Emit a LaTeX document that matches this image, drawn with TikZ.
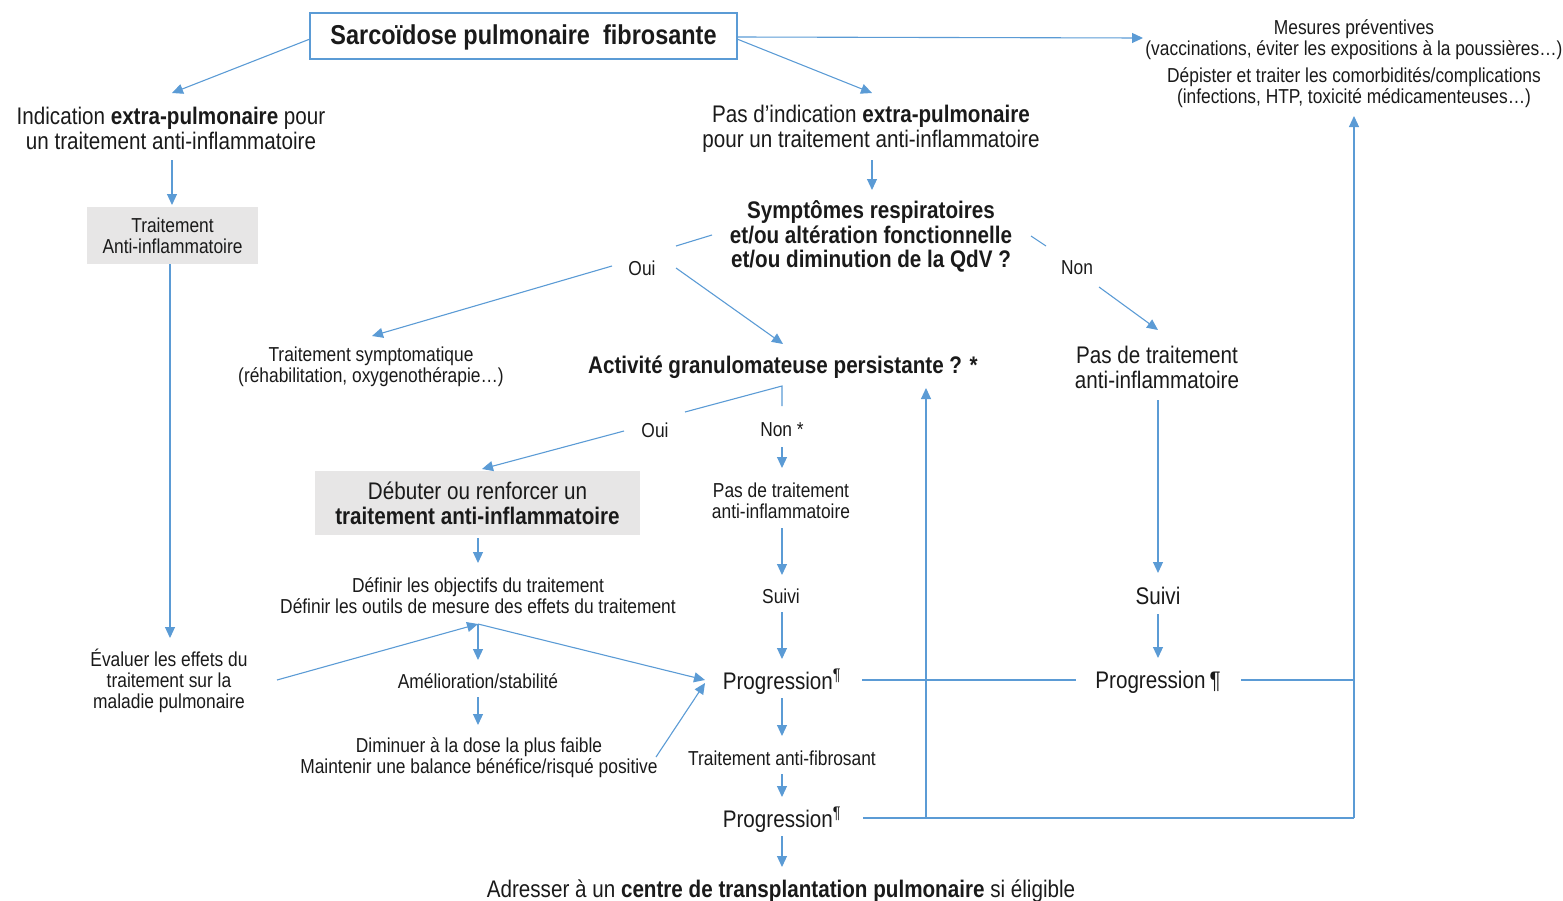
\documentclass[tikz,border=0pt]{standalone}
\usepackage{fontspec}
\setmainfont{Liberation Sans}[FakeStretch=0.86]
\usetikzlibrary{arrows.meta,calc}
\definecolor{lb}{HTML}{5B9BD5}
\definecolor{gbox}{HTML}{E7E6E6}
\definecolor{tx}{HTML}{1A1A1A}
\tikzset{
 conn/.style={draw=lb, line width=1.1pt},
 arr/.style={conn, -{Triangle[length=11pt,width=10pt]}},
 bigfont/.style={font=\fontsize{24}{25}\selectfont, align=center, inner sep=0pt, text=tx},
 smallfont/.style={font=\fontsize{20.2}{21}\selectfont, align=center, inner sep=0pt, text=tx},
 big/.style={bigfont, yshift=-2pt},
 small/.style={smallfont, yshift=-2pt},
 graybox/.style={fill=gbox, draw=none},
}
\begin{document}
\begin{tikzpicture}[x=1pt,y=-1pt]
\useasboundingbox (0,0) rectangle (1563,900);
% nodes
\node[draw=lb, line width=1.6pt, minimum width=427pt, minimum height=46pt, inner sep=0pt, text=tx, text depth=3pt,
  font=\fontsize{27.3}{30}\selectfont\bfseries] (title) at (523.5,36) {Sarcoïdose pulmonaire\ \ fibrosante};
\node[big] (ind) at (171,126.5) {Indication \textbf{extra-pulmonaire} pour\\un traitement anti-inflammatoire};
\node[big] (pas) at (871,126.5) {Pas d’indication \textbf{extra-pulmonaire}\\pour un traitement anti-inflammatoire};
\node[small] (mes1) at (1354,37.5) {Mesures préventives\\(vaccinations, éviter les expositions à la poussières…)};
\node[small] (mes2) at (1354,85.5) {Dépister et traiter les comorbidités/complications\\(infections, HTP, toxicité médicamenteuses…)};
\node[smallfont, graybox, minimum width=171pt, minimum height=57pt] (trA) at (172.5,235.5) {Traitement\\Anti-inflammatoire};
\node[big, font=\fontsize{24}{24.5}\selectfont\bfseries] (sym) at (871,234.5) {Symptômes respiratoires\\et/ou altération fonctionnelle\\et/ou diminution de la QdV ?};
\node[small] (oui1) at (642,266) {Oui};
\node[small] (non1) at (1077,266) {Non};
\node[small] (trS) at (371,364.5) {Traitement symptomatique\\(réhabilitation, oxygenothérapie…)};
\node[big, font=\fontsize{24}{25}\selectfont\bfseries] (act) at (783,365) {Activité granulomateuse persistante ? *};
\node[big] (pdt1) at (1157,365.5) {Pas de traitement\\anti-inflammatoire};
\node[small] (oui2) at (655,428) {Oui};
\node[small] (non2) at (782,428) {Non *};
\node[bigfont, graybox, minimum width=325pt, minimum height=64pt] (deb) at (477.5,503) {Débuter ou renforcer un\\\textbf{traitement anti-inflammatoire}};
\node[small] (pdt2) at (781,498.5) {Pas de traitement\\anti-inflammatoire};
\node[small] (def) at (478,593.5) {Définir les objectifs du traitement\\Définir les outils de mesure des effets du traitement};
\node[small] (suivi1) at (781,594) {Suivi};
\node[big] (suivi2) at (1158,594) {Suivi};
\node[small] (eva) at (169,679) {Évaluer les effets du\\traitement sur la\\maladie pulmonaire};
\node[small] (amel) at (478,679) {Amélioration/stabilité};
\node[big] (prog1) at (782,680) {Progression\textsuperscript{¶}};
\node[big] (prog3) at (1158,680) {Progression\,¶};
\node[small] (dim) at (479,755.5) {Diminuer à la dose la plus faible\\Maintenir une balance bénéfice/risqué positive};
\node[small] (taf) at (782,756) {Traitement anti-fibrosant};
\node[big] (prog2) at (782,818) {Progression\textsuperscript{¶}};
\node[big] (adr) at (781,889) {Adresser à un \textbf{centre de transplantation pulmonaire} si éligible};
% coordinates
\coordinate (eInd) at (172,93);
\coordinate (ePas) at (872,93);
\coordinate (eMes) at (1143,38);
\coordinate (symL) at (712,235);
\coordinate (ouiR) at (676,246);
\coordinate (symR) at (1031,236);
\coordinate (nonL) at (1046,246);
\coordinate (actB) at (782,386);
\coordinate (actL) at (685,412);
\coordinate (actN) at (782,406);
\coordinate (jn) at (478,624);
\coordinate (pL) at (705,680);
\coordinate (pL2) at (705,683);
\coordinate (rc) at (1354,680);
\coordinate (rb) at (1354,818);
\coordinate (mb) at (926,818);
% connectors
\draw[arr] (310,39) -- (eInd);
\draw[arr] (737,39) -- (ePas);
\draw[arr] (737,37) -- (eMes);
\draw[arr] (172,160) -- (172,205);
\draw[arr] (872,160) -- (872,190);
\draw[conn] (symL) -- (ouiR);
\draw[arr] (612,266) -- (372,336);
\draw[arr] (676,268) -- (783,344);
\draw[conn] (symR) -- (nonL);
\draw[arr] (1099,287) -- (1158,330);
\draw[arr] (170,264) -- (170,638);
\draw[conn] (actL) -- (actB) -- (actN);
\draw[arr] (624,431) -- (482,469);
\draw[arr] (782,447) -- (782,468);
\draw[arr] (782,528) -- (782,575);
\draw[arr] (782,612) -- (782,659);
\draw[arr] (478,538) -- (478,563);
\draw[arr] (277,680) -- (jn);
\draw[arr] (jn) -- (478,660);
\draw[arr] (jn) -- (pL);
\draw[arr] (478,697) -- (478,725);
\draw[arr] (656,757) -- (pL2);
\draw[arr] (782,698) -- (782,736);
\draw[arr] (782,774) -- (782,797);
\draw[arr] (782,836) -- (782,867);
\draw[arr] (1158,400) -- (1158,573);
\draw[arr] (1158,614) -- (1158,658);
\draw[conn] (862,680) -- (1076,680);
\draw[conn] (1241,680) -- (rc);
\draw[conn] (863,818) -- (rb);
\draw[arr] (rb) -- (1354,116);
\draw[arr] (mb) -- (926,388);
\end{tikzpicture}
\end{document}
